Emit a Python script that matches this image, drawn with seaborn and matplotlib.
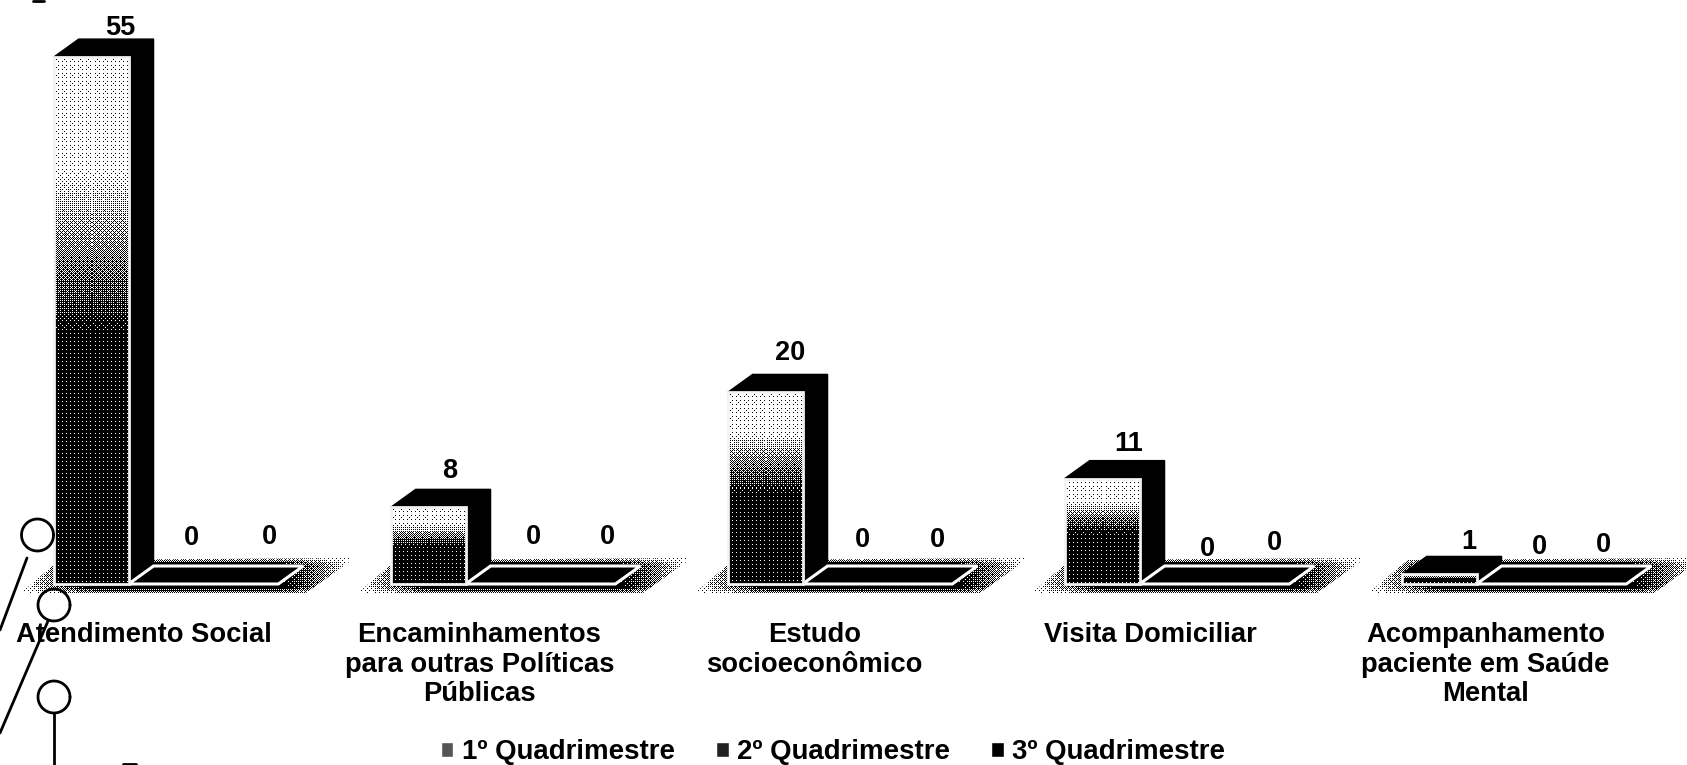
import numpy as np
import pandas as pd
import matplotlib
matplotlib.use("Agg")
import matplotlib.pyplot as plt
from matplotlib.patches import Polygon
from matplotlib.lines import Line2D
import seaborn as sns

# Chart values
categories = ["Atendimento Social",
              "Encaminhamentos\npara outras Políticas\nPúblicas",
              "Estudo\nsocioeconômico",
              "Visita Domiciliar",
              "Acompanhamento\npaciente em Saúde\nMental"]
quad1 = [55, 8, 20, 11, 1]
quad2 = [0, 0, 0, 0, 0]
quad3 = [0, 0, 0, 0, 0]
series_names = ["1º Quadrimestre", "2º Quadrimestre", "3º Quadrimestre"]

# Label nudges in pixels, one row per series, they wander a bit in the original
label_dx = [[29, 22, 25, 27, 30], [25, 30, 22, 30, 25], [29, 30, 23, 23, 15]]
label_dy = [[29, 36, 39, 35, 32], [46, 47, 44, 35, 37], [47, 47, 44, 41, 39]]

W, H = 1687, 765
BASE_Y = 584
GROUP_PX = 337
UNIT_PX = 9.58
DEPTH_X, DEPTH_Y = 25, 18

sns.set_theme(style="white")
plt.rcParams["font.family"] = ["Liberation Sans", "DejaVu Sans"]
plt.rcParams["font.weight"] = "bold"

df = pd.DataFrame({
    "categoria": categories * 3,
    "valor": quad1 + quad2 + quad3,
    "serie": np.repeat(series_names, len(categories)),
})

fig = plt.figure(figsize=(W / 100, H / 100), dpi=100, facecolor="white")
ax = fig.add_axes([0, (H - BASE_Y) / H, 1, BASE_Y / H])
sns.barplot(data=df, x="categoria", y="valor", hue="serie", order=categories,
            hue_order=series_names, palette=["#555555", "#222222", "#000000"],
            width=2 / 3, saturation=1, errorbar=None, ax=ax)

xlim = (-166 / GROUP_PX, (W - 166) / GROUP_PX)
ylim = (0, BASE_Y / UNIT_PX)
dx = DEPTH_X / GROUP_PX
dy = DEPTH_Y / UNIT_PX
px_x = 1 / GROUP_PX
px_y = 1 / UNIT_PX

# 8x8 ordered dither so the gradients look like the scanned print
bayer = np.array([[0]])
for _ in range(3):
    bayer = np.block([[4 * bayer, 4 * bayer + 2], [4 * bayer + 3, 4 * bayer + 1]])
bayer = (bayer + 0.5) / bayer.size


def dither_fill(x0, x1, y0, y1, darkness, clip, zorder):
    nx = max(int(abs(x1 - x0) * GROUP_PX), 1)
    ny = max(int(abs(y1 - y0) * UNIT_PX), 1)
    xx, yy = np.meshgrid((np.arange(nx) + 0.5) / nx, (np.arange(ny) + 0.5) / ny)
    tile = np.tile(bayer, (ny // 8 + 1, nx // 8 + 1))[:ny, :nx]
    on = darkness(xx, yy) > tile
    img = np.ones((ny, nx, 4))
    img[on, :3] = 0
    img[..., 3] = on
    im = ax.imshow(img, extent=(x0, x1, y0, y1), origin="upper", aspect="auto",
                   interpolation="nearest", zorder=zorder)
    im.set_clip_box(fig.bbox)
    im.set_clip_path(clip)


def bar_dark(xx, yy):
    return 0.08 + 0.85 * np.clip((yy - 0.22) / 0.3, 0, 1)


def ground_dark(xx, yy):
    ends = np.minimum(xx, 1 - xx) / 0.22
    edge = np.minimum(yy, 1 - yy) / 0.2
    return np.clip(ends, 0, 1) * np.clip(edge + 0.15, 0, 1) + 0.03


first_bars = ax.containers[0]
for i, bar in enumerate(first_bars):
    x0 = bar.get_x()
    x1 = x0 + bar.get_width()
    top = bar.get_height()
    bar.set_visible(False)

    # ground shadow
    gx = [x0 - 34 * px_x, x0 + 6 * px_x, x0 + 301 * px_x, x0 + 251 * px_x]
    gy = [-10 * px_y, 24 * px_y, 26 * px_y, -10 * px_y]
    ground = Polygon(list(zip(gx, gy)), closed=True, fc="none", ec="none", clip_on=False)
    ax.add_patch(ground)
    dither_fill(min(gx), max(gx), min(gy), max(gy), ground_dark, ground, 1)

    # top and side of the 3D column
    ax.add_patch(Polygon([(x0, top), (x0 + dx, top + dy), (x1 + dx, top + dy), (x1, top)],
                         closed=True, fc="black", ec="black", lw=1, zorder=3))
    ax.add_patch(Polygon([(x1, 0), (x1 + dx, dy), (x1 + dx, top + dy), (x1, top)],
                         closed=True, fc="black", ec="black", lw=1, zorder=3))

    # front face
    face = Polygon([(x0, 0), (x0, top), (x1, top), (x1, 0)], closed=True, fc="white",
                   ec="none", zorder=4)
    ax.add_patch(face)
    dither_fill(x0, x1, 0, top, bar_dark, face, 5)
    ax.add_patch(Polygon([(x0, 0), (x0, top), (x1, top), (x1, 0)], closed=True, fc="none",
                         ec="#f2f2f2", lw=2, zorder=6, clip_on=False))

# the zero bars are one flat plate on the floor
for i in range(len(categories)):
    b2 = ax.containers[1][i]
    b3 = ax.containers[2][i]
    x0 = b2.get_x()
    x1 = b3.get_x() + b3.get_width()
    ax.add_patch(Polygon([(x0, 0), (x0 + dx, dy), (x1 + dx, dy), (x1, 0)], closed=True,
                         fc="black", ec="white", lw=2.2, zorder=4, clip_on=False))

# value labels
for s, cont in enumerate(ax.containers[:3]):
    for i, bar in enumerate(cont):
        ax.annotate(str(int(bar.get_height())),
                    (bar.get_x() + bar.get_width() / 2, bar.get_height()),
                    xytext=(label_dx[s][i], label_dy[s][i]), textcoords="offset pixels",
                    ha="center", va="center", fontsize=19.5, fontweight="bold",
                    color="black", zorder=8, annotation_clip=False)

ax.set_xlim(xlim)
ax.set_ylim(ylim)
ax.set_xlabel("")
ax.set_ylabel("")
ax.set_yticks([])
ax.set_xticks(np.arange(len(categories)) * 0.995 - 0.065)
ax.set_xticklabels(categories, fontsize=19.7, fontweight="bold", color="black",
                   linespacing=1.17)
ax.tick_params(axis="x", length=0, pad=27.5)
sns.despine(ax=ax, left=True, bottom=True, top=True, right=True)
ax.patch.set_alpha(0)

handles, labels = ax.get_legend_handles_labels()
ax.legend(handles, labels, ncol=3, loc="center", bbox_to_anchor=(833 / W, -168 / BASE_Y),
          frameon=False, fontsize=19.9, handlelength=0.45, handleheight=0.45,
          handletextpad=0.3, columnspacing=1.5, labelcolor="black")


# stray stamp marks at the lower left of the scan, given in pixels
def to_fig(x, y):
    return x / W, 1 - y / H


theta = np.linspace(0, 2 * np.pi, 60)
for cx, cy, r in [(37.5, 535, 16), (54, 605, 16), (54, 697, 16)]:
    xs = (cx + r * np.cos(theta)) / W
    ys = 1 - (cy + r * np.sin(theta)) / H
    fig.add_artist(Line2D(xs, ys, color="black", lw=2, zorder=9))
for (xa, ya), (xb, yb) in [((27, 558), (0, 630)), ((48, 621), (0, 733)), ((54, 713), (54, 765)),
                           ((123, 764), (136, 764)), ((33, 1), (44, 1))]:
    pa, pb = to_fig(xa, ya), to_fig(xb, yb)
    fig.add_artist(Line2D([pa[0], pb[0]], [pa[1], pb[1]], color="black", lw=2, zorder=9))

fig.savefig("out.png", dpi=100)
